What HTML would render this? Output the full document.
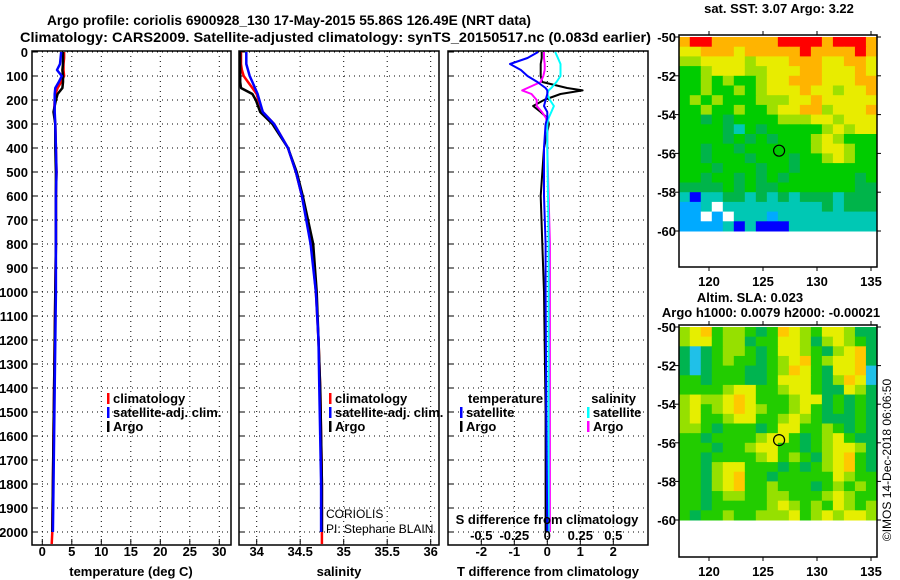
<!DOCTYPE html>
<html><head><meta charset="utf-8"><style>
body{margin:0;background:#fff}
svg{display:block;font-family:"Liberation Sans",sans-serif}
.b{font-weight:bold;font-size:13px}
</style></head><body>
<svg id="c" width="900" height="580" viewBox="0 0 900 580">
<text x="47" y="25" class="b" style="font-size:14px" textLength="484" lengthAdjust="spacingAndGlyphs">Argo profile: coriolis 6900928_130 17-May-2015 55.86S 126.49E (NRT data)</text>
<text x="20" y="42" class="b" style="font-size:14px" textLength="631" lengthAdjust="spacingAndGlyphs">Climatology: CARS2009. Satellite-adjusted climatology: synTS_20150517.nc (0.083d earlier)</text>
</svg>
<script>
// ---- profile data ----
const depths=[0,25,50,75,100,125,150,175,200,250,300,400,500,600,800,1000,1200,1400,1600,1800,2000,2050];
const argoT=[3.5,3.5,3.5,3.4,3.5,3.5,3.4,2.6,2.3,1.9,2.2,2.2,2.3,2.3,2.3,2.2,2.1,2.0,1.9,1.8,1.7];
const climT=[3.7,3.7,3.6,3.6,3.7,3.2,2.6,2.2,2.1,2.0,2.2,2.3,2.4,2.3,2.3,2.2,2.1,2.0,1.9,1.8,1.7,1.6];
const satT=[3.2,3.1,3.0,2.5,3.3,2.8,2.2,2.1,2.1,2.1,2.2,2.3,2.4,2.3,2.3,2.3,2.2,2.1,2.0,1.9,1.8];
const climS=[33.82,33.82,33.82,33.83,33.85,33.9,33.95,34.0,34.02,34.07,34.2,34.36,34.45,34.52,34.63,34.68,34.71,34.73,34.74,34.75,34.75,34.75];
const satS=[33.88,33.88,33.88,33.9,33.92,33.95,33.98,34.01,34.03,34.07,34.2,34.36,34.45,34.52,34.62,34.68,34.71,34.72,34.73,34.74,34.74];
const argoS=[33.81,33.81,33.81,33.81,33.81,33.81,33.82,33.95,33.99,34.04,34.18,34.36,34.46,34.53,34.65,34.69,34.71,34.73,34.74,34.75,34.75];
const diffDepths=[0,25,50,75,100,125,150,160,175,200,225,250,275,300,400,600,800,1000,1500,2000];
const argoDT=[-0.17,-0.17,-0.2,-0.2,-0.2,-0.15,0.6,1.07,0.4,-0.1,-0.43,-0.2,0,0.05,-0.1,-0.2,-0.15,-0.1,-0.05,-0.05];
const satDT=[-0.28,-0.6,-1.13,-0.8,-0.6,-0.3,-0.05,0,0,-0.05,-0.1,0,0,-0.05,-0.1,-0.1,-0.05,-0.05,-0.03,0];
const argoDS=[-0.025,-0.025,-0.02,-0.02,-0.03,-0.05,-0.15,-0.19,-0.12,-0.08,-0.08,-0.04,-0.01,0,0,0.01,0.02,0.02,0.02,0.02];
const satDS=[0.06,0.08,0.1,0.1,0.1,0.07,0.03,0.01,0,0.02,0.05,0.03,0.01,0,0,0.005,0.01,0.01,0.01,0.01];
const depthTicks=[0,100,200,300,400,500,600,700,800,900,1000,1100,1200,1300,1400,1500,1600,1700,1800,1900,2000];
const tTicks=[0,5,10,15,20,25,30];
const sTicks=[34,34.5,35,35.5,36];
const dtTicks=[-2,-1,0,1,2];
const dsTicks=[-0.5,-0.25,0,0.25,0.5];
const dsTickLabels=["-0.5","-0.25","0","0.25","0.5"];
// ---- map data (rows from -50 to -60, 18 cols from lon 117.2) ----
const sstRows=["orroooooorrrrorrro","yyoooyooooorooooro","llyyyylyyyoooyyooy","gglyyyllyyyooyyyoy","gglglgglyyoooyyyoo","gglgglglyyyoyylyyo","glglggglllyyoyyyyy","gglgglgglyyoolyyyo","ggdgdgggglllyylyyy","ggggdcgdggggglylyy","ggggdgdgdggglylggg","ggdggdgggggglyylgg","ggdgggdgggdgglylgg","gggdgggdggdggggggg","ggdggdgdgdggggggdg","ddddgdgddgggggggdd","cBccddcdcdcdddcddd","bbcwcccccccccdcddd","bbwbwcccbccccccccc","bbbbcBcBBBcccccccc"];
const sstColors={r:"#ff0000",o:"#ffb400",y:"#e8ec00",l:"#9ee000",g:"#00cc00",d:"#00b44a",c:"#00c8b4",b:"#00aaff",B:"#0000ff",w:"#ffffff"};
const slaRows=["lyogllgdgoylgyyldd","lyyglldggyyldlylgd","dcdgllgdgyylgdlyod","dcdglggdglyoglyyod","dcdgggddgloygdyyoc","ggdgggddgyyygdloyc","gggglyygglyygddyld","lyllyoyggglyydgdgd","lyglyoylgglygdgdgd","lygglyygglylgdddgd","llgdgggdgyygglgdgd","ggdgggglyygdglygdd","gggdgglyyggdglyyld","ggdgggglyglgdlyogd","ggdlyygggdgdglyogd","ggdlyoggdgggggylgg","ggdlyogglgggdglglg","ggdgllggllggglylgg","ggdggggglylglgylgl","gdgglgglllyglylyyl"];
const slaColors={g:"#22cc00",d:"#00b450",l:"#96e000",y:"#e6ee00",o:"#ffc800",c:"#20c0e8"};
const argoLon=126.49, argoLat=-55.86;
const lonTicks=[120,125,130,135];
const latTicks=[-50,-52,-54,-56,-58,-60];

const svg=document.getElementById('c');
const NS="http://www.w3.org/2000/svg";
function mk(tag,attrs,parent){const e=document.createElementNS(NS,tag);for(const k in attrs)e.setAttribute(k,attrs[k]);(parent||svg).appendChild(e);return e;}
function txt(x,y,s,cls,anchor,extra){const t=mk('text',Object.assign({x:x,y:y,'text-anchor':anchor||'start'},extra||{}));if(cls)t.setAttribute('class',cls);t.textContent=s;return t;}

const TOP=51,BOT=545;
const yD=d=>52+d*0.24;
const panels=[
 {name:'temperature',l:32,r:231,x:v=>42.3+5.9*v},
 {name:'salinity',l:239,r:439,x:v=>256.7+87*(v-34)},
 {name:'difference',l:448,r:648,x:v=>547.3+33*v}];
const xDS=v=>547.3+132*v;

panels.forEach((p,i)=>{
 const g=mk('g',{});
 
 
 depthTicks.forEach(d=>{
  const ln=mk('line',{x1:p.l,x2:p.r,y1:yD(d),y2:yD(d),stroke:'#000','stroke-dasharray':'1,4'},g);
  
  
  mk('line',{x1:p.l,x2:p.l+6,y1:yD(d),y2:yD(d),stroke:'#000'},g);
  if(i===0){const t=txt(p.l-4,yD(d)+5,String(d),'b','end');
   
   }
 });
 const xt=i===0?tTicks:(i===1?sTicks:dtTicks);
 xt.forEach(v=>{
  const ln=mk('line',{x1:p.x(v),x2:p.x(v),y1:TOP,y2:BOT,stroke:'#000','stroke-dasharray':'1,4'},g);
  
  
  mk('line',{x1:p.x(v),x2:p.x(v),y1:BOT,y2:BOT-6,stroke:'#000'},g);
  const t=txt(p.x(v),556,String(v),'b','middle');
  
  
 });
 const fr=mk('rect',{x:p.l,y:TOP,width:p.r-p.l,height:BOT-TOP,fill:'none',stroke:'#000','stroke-width':1.5},g);
 
 
});

function line(vals,ds,xf,color,w,name){
 const pts=vals.map((v,k)=>xf(v).toFixed(1)+','+yD(ds[k]).toFixed(1)).join(' ');
 const pl=mk('polyline',{points:pts,fill:'none',stroke:color,'stroke-width':w,'stroke-linejoin':'round'});
 
 
}
const P=panels;
line(climT,depths,P[0].x,'#ff0000',2.5,'climatology-temperature-line');
line(argoT,depths,P[0].x,'#000',2.5,'argo-temperature-line');
line(satT,depths,P[0].x,'#0000ff',2.5,'satellite-temperature-line');
line(climS,depths,P[1].x,'#ff0000',2.5,'climatology-salinity-line');
line(argoS,depths,P[1].x,'#000',2.5,'argo-salinity-line');
line(satS,depths,P[1].x,'#0000ff',2.5,'satellite-salinity-line');
line(argoDT,diffDepths,P[2].x,'#000',2,'argo-t-diff-line');
line(argoDS,diffDepths,xDS,'#ff00ff',2,'argo-s-diff-line');
line(satDS,diffDepths,xDS,'#00ffff',2,'satellite-s-diff-line');
line(satDT,diffDepths,P[2].x,'#0000ff',2,'satellite-t-diff-line');

// axis titles
[['temperature (deg C)',131,'temperature-axis-title'],['salinity',339,'salinity-axis-title'],['T difference from climatology',548,'t-diff-axis-title']].forEach(a=>{
 const t=txt(a[1],576,a[0],'b','middle');
 
 
});
const sdt=txt(547,524,'S difference from climatology','b','middle');


dsTicks.forEach((v,k)=>{
 const t=txt(xDS(v),540,dsTickLabels[k],'b','middle');
 
 
});

// legends
function legend(x,y,color,label){
 const g=mk('g',{});
 
 
 mk('rect',{x:x,y:y-10,width:2.5,height:11,fill:color},g);
 const t=mk('text',{x:x+6,y:y,class:'b'},g);t.textContent=label;
}
[['#ff0000','climatology'],['#0000ff','satellite-adj. clim.'],['#000','Argo']].forEach((e,k)=>{
 legend(107,403+k*14,e[0],e[1]);legend(329,403+k*14,e[0],e[1]);
});
const lt=txt(468,403,'temperature','b');
const ls=txt(636,403,'salinity','b','end');
legend(460,417,'#0000ff','satellite');legend(460,431,'#000','Argo');
legend(587,417,'#00ffff','satellite');legend(587,431,'#ff00ff','Argo');

const c1=txt(326,518,'CORIOLIS',null,'start',{'font-size':12});
const c2=txt(326,533,'PI: Stephane BLAIN',null,'start',{'font-size':12});

// maps
function map(rows,colors,top,bot,lat50,lat60,name){
 const L=679,R=877,lon120=709,lon135=871;
 const xL=lon=>lon120+(lon-120)*(lon135-lon120)/15;
 const yL=lat=>lat50+(-50-lat)*(lat60-lat50)/10;
 const g=mk('g',{});
 
 
 const lon0=117.2, dlon=(135.55-117.2)/rows[0].length;
 rows.forEach((r,ri)=>{
  for(let ci=0;ci<r.length;ci++){
   const x0=xL(lon0+ci*dlon),x1=xL(lon0+(ci+1)*dlon);
   const y0=yL(-50-ri*10/rows.length),y1=yL(-50-(ri+1)*10/rows.length);
   const cell=mk('rect',{x:x0.toFixed(2),y:y0.toFixed(2),width:(x1-x0+0.5).toFixed(2),height:(y1-y0+0.5).toFixed(2),fill:colors[r[ci]]},g);
   
   
  }
 });
 latTicks.forEach(v=>{
  mk('line',{x1:L,x2:L-4,y1:yL(v),y2:yL(v),stroke:'#000'},g);
  mk('line',{x1:R,x2:R+4,y1:yL(v),y2:yL(v),stroke:'#000'},g);
  const t=txt(L-3,yL(v)+5,String(v),'b','end');
  
  
 });
 lonTicks.forEach(v=>{
  mk('line',{x1:xL(v),x2:xL(v),y1:top,y2:top-4,stroke:'#000'},g);
  mk('line',{x1:xL(v),x2:xL(v),y1:bot,y2:bot+4,stroke:'#000'},g);
  const t=txt(xL(v),bot+19,String(v),'b','middle',{'font-size':14});
  
  
 });
 const ci=mk('circle',{cx:xL(argoLon),cy:yL(argoLat),r:5.5,fill:'none',stroke:'#000','stroke-width':1.2},g);
 
 
 mk('rect',{x:L,y:top,width:R-L,height:bot-top,fill:'none',stroke:'#000','stroke-width':1.5},g);
}
map(sstRows,sstColors,35,267,37,231,'sst-map');
map(slaRows,slaColors,325,557,327,520,'sla-map');
const t1=txt(779,13,'sat. SST: 3.07 Argo: 3.22','b','middle');
const t2=txt(750,302,'Altim. SLA: 0.023','b','middle');
const t3=txt(771,317,'Argo h1000: 0.0079 h2000: -0.00021','b','middle');
const cp=txt(0,0,'©IMOS 14-Dec-2018 06:06:50',null,'middle',{'font-size':12,transform:'translate(891,460) rotate(-90)'});


</script>
</body></html>
